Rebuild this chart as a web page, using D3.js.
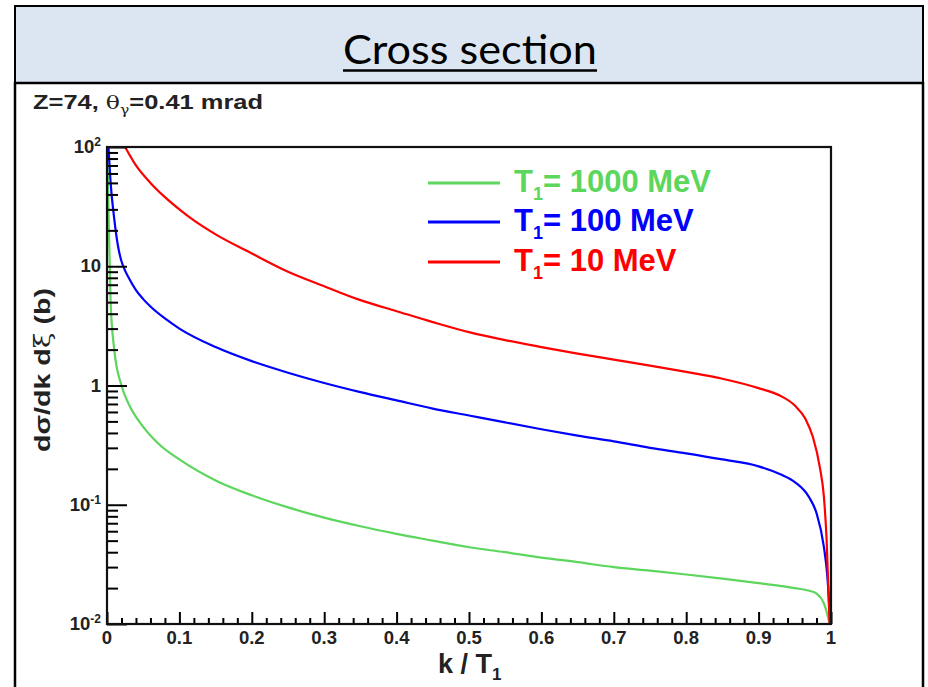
<!DOCTYPE html>
<html>
<head>
<meta charset="utf-8">
<script src="https://cdn.jsdelivr.net/npm/d3@7"></script>
<style>
  html, body { margin: 0; padding: 0; background: #fff; }
  svg { display: block; }
</style>
</head>
<body>
<svg id="chart" width="928" height="687"></svg>
<script>
// Differential cross section vs photon energy fraction, three beam energies
const kRed   = [0.025, 0.04, 0.06, 0.08, 0.1, 0.12, 0.15, 0.2, 0.25, 0.3, 0.35, 0.4, 0.45, 0.5, 0.55, 0.6, 0.65, 0.7, 0.75, 0.8, 0.85, 0.9, 0.93, 0.95, 0.965, 0.975, 0.985, 0.99, 0.994, 0.997, 0.998];
const sRed   = [100, 70, 50, 38, 30, 24.2, 18.5, 12.8, 9, 6.8, 5.2, 4.2, 3.4, 2.8, 2.4, 2.1, 1.85, 1.65, 1.47, 1.3, 1.14, 0.95, 0.82, 0.68, 0.52, 0.37, 0.2, 0.12, 0.05, 0.015, 0.01];

const kBlue  = [0.002, 0.005, 0.01, 0.015, 0.02, 0.025, 0.03, 0.04, 0.05, 0.06, 0.08, 0.1, 0.15, 0.2, 0.25, 0.3, 0.35, 0.4, 0.45, 0.5, 0.55, 0.6, 0.65, 0.7, 0.75, 0.8, 0.85, 0.9, 0.93, 0.95, 0.97, 0.98, 0.99, 0.995, 0.999];
const sBlue  = [100, 50, 25, 15, 11, 9.2, 8, 6.3, 5.3, 4.6, 3.65, 3.0, 2.1, 1.6, 1.28, 1.05, 0.88, 0.75, 0.64, 0.56, 0.49, 0.43, 0.38, 0.34, 0.3, 0.27, 0.24, 0.21, 0.18, 0.155, 0.115, 0.085, 0.045, 0.025, 0.01];

const kGreen = [0.0005, 0.002, 0.005, 0.01, 0.02, 0.03, 0.05, 0.07, 0.1, 0.15, 0.2, 0.25, 0.3, 0.35, 0.4, 0.45, 0.5, 0.55, 0.6, 0.65, 0.7, 0.75, 0.8, 0.85, 0.9, 0.95, 0.97, 0.98, 0.99, 0.995, 0.998];
const sGreen = [100, 30, 5, 2, 1, 0.7, 0.45, 0.33, 0.24, 0.16, 0.12, 0.095, 0.078, 0.066, 0.057, 0.05, 0.044, 0.04, 0.036, 0.033, 0.03, 0.028, 0.026, 0.024, 0.022, 0.02, 0.019, 0.018, 0.015, 0.012, 0.01];

const legendEnergies = ["1000", "100", "10"];
const seriesColors = ["#5cd65c", "#0000ff", "#ff0000"];

const xTickLabels = ["0", "0.1", "0.2", "0.3", "0.4", "0.5", "0.6", "0.7", "0.8", "0.9", "1"];
const yTickValues = [100, 10, 1, 0.1, 0.01];
const yTickBase = ["10", "10", "1", "10", "10"];
const yTickExp  = ["2", "", "", "-1", "-2"];

const svg = d3.select("#chart");
const font = "'Liberation Sans', Arial, Helvetica, sans-serif";

// Slide frame: title banner and content panel
svg.append("rect").attr("x", 15).attr("y", 6).attr("width", 908).attr("height", 77)
  .attr("fill", "#dce6f2").attr("stroke", "#000").attr("stroke-width", 2);
svg.append("rect").attr("x", 15).attr("y", 83).attr("width", 908).attr("height", 610)
  .attr("fill", "#fff").attr("stroke", "#000").attr("stroke-width", 2.5);

svg.append("text").attr("x", 470).attr("y", 64).attr("text-anchor", "middle")
  .attr("font-family", "Lato, 'Open Sans', sans-serif").attr("font-size", 40)
  .attr("textLength", 254).attr("lengthAdjust", "spacingAndGlyphs")
  .attr("fill", "#000").text("Cross section");
svg.append("line").attr("x1", 343).attr("x2", 597).attr("y1", 70.5).attr("y2", 70.5)
  .attr("stroke", "#000").attr("stroke-width", 2.5);

// Plot geometry
const plotL = 107, plotR = 831, plotT = 147, plotB = 624;
const x = d3.scaleLinear().domain([0, 1]).range([plotL, plotR]);
const y = d3.scaleLog().domain([0.01, 100]).range([plotB, plotT]);

// Header annotation
const head = svg.append("text").attr("x", 33).attr("y", 109)
  .attr("font-family", font).attr("font-size", 19.5).attr("font-weight", "bold").attr("fill", "#222")
  .attr("textLength", 230).attr("lengthAdjust", "spacingAndGlyphs");
head.append("tspan").text("Z=74, ");
head.append("tspan").attr("font-weight", "normal").attr("font-family", "'DejaVu Serif', serif").attr("font-size", 18).text("θ");
head.append("tspan").attr("font-weight", "normal").attr("font-family", "'DejaVu Serif', serif").attr("font-size", 12).attr("dy", 5).text("γ");
head.append("tspan").attr("dy", -5).text("=0.41 mrad");

// Curves
const clip = svg.append("defs").append("clipPath").attr("id", "plotclip");
clip.append("rect").attr("x", plotL).attr("y", plotT).attr("width", plotR - plotL).attr("height", plotB - plotT);

const line = d3.line().x(d => x(d[0])).y(d => y(d[1])).curve(d3.curveMonotoneX);
const series = [
  { k: kGreen, v: sGreen, color: seriesColors[0] },
  { k: kBlue,  v: sBlue,  color: seriesColors[1] },
  { k: kRed,   v: sRed,   color: seriesColors[2] }
];
const gCurves = svg.append("g").attr("clip-path", "url(#plotclip)");
series.forEach(s => {
  gCurves.append("path").datum(s.k.map((k, i) => [k, s.v[i]]))
    .attr("d", line).attr("fill", "none").attr("stroke", s.color).attr("stroke-width", 2.2);
});

// Axes with inward ticks
const xMinor = d3.range(0, 1.0001, 0.02).filter(v => Math.abs(Math.round(v * 10) - v * 10) > 1e-6);
svg.append("g").attr("transform", `translate(0,${plotB})`)
  .call(d3.axisBottom(x).tickValues(xMinor).tickSize(-6).tickFormat(""))
  .call(g => g.select(".domain").remove())
  .selectAll("line").attr("stroke", "#000").attr("stroke-width", 2);
svg.append("g").attr("transform", `translate(0,${plotB})`)
  .call(d3.axisBottom(x).tickValues(d3.range(0, 11).map(i => i / 10)).tickSize(-12).tickFormat(""))
  .call(g => g.select(".domain").remove())
  .selectAll("line").attr("stroke", "#000").attr("stroke-width", 2);

const yMinor = [];
[0.01, 0.1, 1, 10].forEach(d => { for (let m = 2; m <= 9; m++) yMinor.push(d * m); });
svg.append("g").attr("transform", `translate(${plotL},0)`)
  .call(d3.axisLeft(y).tickValues(yMinor).tickSize(-11).tickFormat(""))
  .call(g => g.select(".domain").remove())
  .selectAll("line").attr("stroke", "#000").attr("stroke-width", 2);
svg.append("g").attr("transform", `translate(${plotL},0)`)
  .call(d3.axisLeft(y).tickValues(yTickValues).tickSize(-20).tickFormat(""))
  .call(g => g.select(".domain").remove())
  .selectAll("line").attr("stroke", "#000").attr("stroke-width", 2);

// Frame
svg.append("rect").attr("x", plotL).attr("y", plotT).attr("width", plotR - plotL).attr("height", plotB - plotT)
  .attr("fill", "none").attr("stroke", "#111").attr("stroke-width", 2.2);

// Tick labels
svg.append("g").selectAll("text").data(xTickLabels).join("text")
  .attr("x", (d, i) => x(i / 10)).attr("y", plotB + 20)
  .attr("text-anchor", "middle").attr("font-family", font).attr("font-size", 18.5)
  .attr("font-weight", "bold").attr("fill", "#222").text(d => d);

const yl = svg.append("g").selectAll("text").data(yTickValues).join("text")
  .attr("x", plotL - 6).attr("y", d => y(d) + 6)
  .attr("text-anchor", "end").attr("font-family", font).attr("font-size", 18.5)
  .attr("font-weight", "bold").attr("fill", "#222");
yl.append("tspan").text((d, i) => yTickBase[i]);
yl.append("tspan").attr("dy", -7).attr("font-size", 12).text((d, i) => yTickExp[i]);

// Axis titles
const xt = svg.append("text").attr("x", 438).attr("y", 673)
  .attr("font-family", font).attr("font-size", 27).attr("font-weight", "bold").attr("fill", "#222");
xt.append("tspan").text("k / T");
xt.append("tspan").attr("dy", 7).attr("font-size", 17).text("1");

const ytl = svg.append("text").attr("transform", "translate(50,370) rotate(-90)")
  .attr("text-anchor", "middle").attr("font-family", font).attr("font-size", 22)
  .attr("font-weight", "bold").attr("fill", "#222")
  .attr("textLength", 164).attr("lengthAdjust", "spacingAndGlyphs");
ytl.append("tspan").text("dσ/dk d");
ytl.append("tspan").attr("font-weight", "normal").attr("font-family", "'DejaVu Serif', serif").text("ξ");
ytl.append("tspan").text(" (b)");

// Legend
const legY = [183, 222, 262];
const leg = svg.append("g").selectAll("g").data(legendEnergies).join("g");
leg.append("line").attr("x1", 428).attr("x2", 500)
  .attr("y1", (d, i) => legY[i]).attr("y2", (d, i) => legY[i])
  .attr("stroke", (d, i) => seriesColors[i]).attr("stroke-width", 3);
const lt = leg.append("text").attr("x", 514).attr("y", (d, i) => legY[i] + 9)
  .attr("font-family", font).attr("font-size", 31).attr("font-weight", "bold")
  .attr("fill", (d, i) => seriesColors[i]);
lt.append("tspan").text("T");
lt.append("tspan").attr("dy", 8).attr("font-size", 18).text("1");
lt.append("tspan").attr("dy", -8).text(d => `= ${d} MeV`);
</script>
</body>
</html>
